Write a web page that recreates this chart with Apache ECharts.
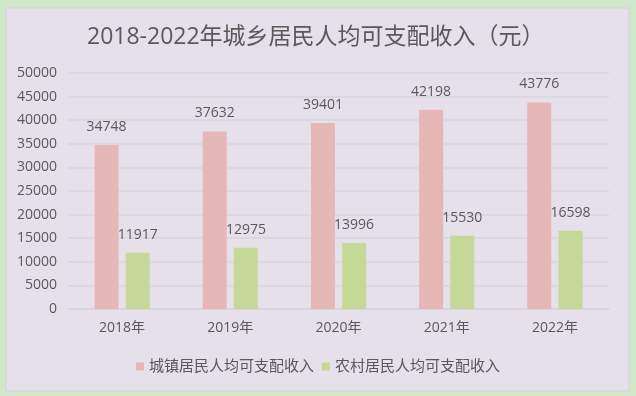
<!DOCTYPE html>
<html>
<head>
<meta charset="utf-8">
<script src="https://cdn.jsdelivr.net/npm/echarts@6/dist/echarts.min.js"></script>
<style>
html, body { margin: 0; padding: 0; background: #cfe8ca; }
#main { width: 636px; height: 396px; }
</style>
</head>
<body>
<div id="main"></div>
<script>
var years = ['2018年', '2019年', '2020年', '2021年', '2022年'];
var urban = [34748, 37632, 39401, 42198, 43776];
var rural = [11917, 12975, 13996, 15530, 16598];
var seriesNames = ['城镇居民人均可支配收入', '农村居民人均可支配收入'];

var textColor = '#595959';
var cjk = '"Open Sans", "Noto Sans CJK SC", sans-serif';

var option = {
    backgroundColor: '#cfe8ca',
    graphic: [
        {
            type: 'rect',
            z: -10,
            shape: { x: 6, y: 8, width: 623, height: 383 },
            style: { fill: '#e6e0eb', stroke: '#d6d0dc', lineWidth: 1 }
        }
    ],
    title: {
        text: '2018-2022年城乡居民人均可支配收入（元）',
        left: 82,
        top: 21,
        textStyle: {
            color: textColor,
            fontSize: 23,
            fontWeight: 'normal',
            fontFamily: cjk
        }
    },
    legend: {
        data: seriesNames,
        bottom: 17,
        left: 'center',
        itemWidth: 8,
        itemHeight: 8,
        itemGap: 8,
        icon: 'rect',
        textStyle: { color: textColor, fontSize: 15, fontFamily: cjk }
    },
    grid: {
        left: 68,
        right: 27,
        top: 73,
        bottom: 87,
        containLabel: false
    },
    xAxis: {
        type: 'category',
        data: years,
        axisLine: { lineStyle: { color: '#d9d5dc', width: 1.5 } },
        axisTick: { show: false },
        axisLabel: { color: textColor, fontSize: 14, fontFamily: cjk, margin: 12 }
    },
    yAxis: {
        type: 'value',
        min: 0,
        max: 50000,
        interval: 5000,
        axisLine: { show: false },
        axisTick: { show: false },
        axisLabel: {
            color: textColor,
            fontSize: 14,
            fontFamily: cjk,
            margin: 11,
            formatter: function (v) { return String(v); }
        },
        splitLine: { lineStyle: { color: '#d9d5dc', width: 1.5 } }
    },
    series: [
        {
            name: seriesNames[0],
            type: 'bar',
            data: urban,
            barWidth: 24,
            barGap: '30%',
            itemStyle: { color: '#e6b7b7' },
            label: {
                show: true,
                position: 'top',
                distance: 11,
                color: textColor,
                fontSize: 14,
                fontFamily: cjk
            }
        },
        {
            name: seriesNames[1],
            type: 'bar',
            data: rural,
            barWidth: 24,
            barGap: '30%',
            itemStyle: { color: '#c5d898' },
            label: {
                show: true,
                position: 'top',
                distance: 11,
                color: textColor,
                fontSize: 14,
                fontFamily: cjk
            }
        }
    ]
};

var myChart = echarts.init(document.getElementById('main'));
myChart.setOption(option);
</script>
</body>
</html>
